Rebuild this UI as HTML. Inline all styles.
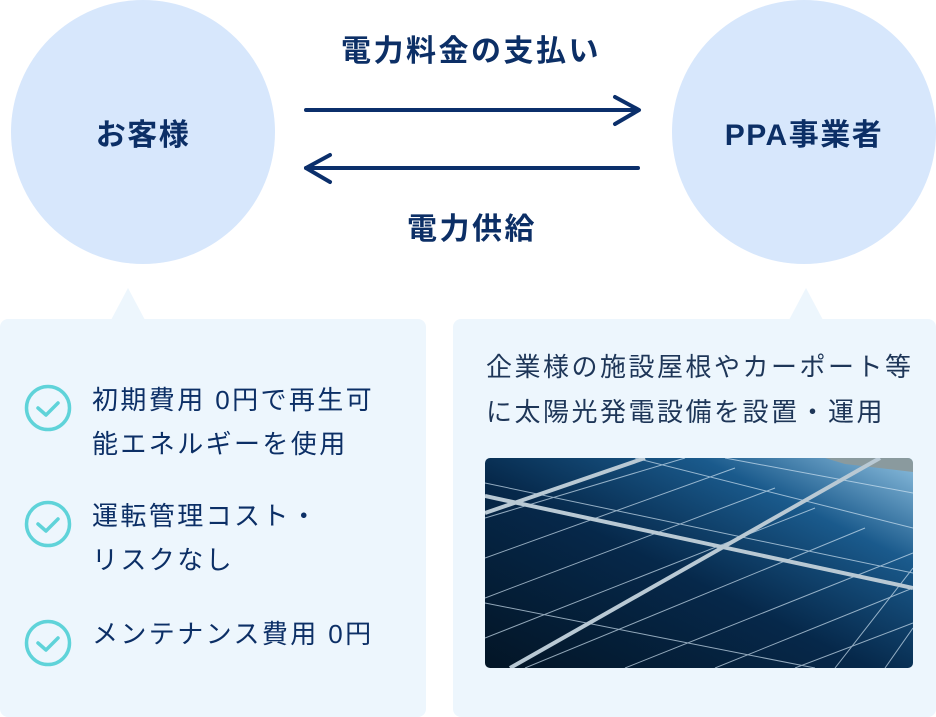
<!DOCTYPE html>
<html><head><meta charset="utf-8"><style>
*{margin:0;padding:0;box-sizing:border-box}
body{width:936px;height:717px;background:#fff;position:relative;overflow:hidden;font-family:"Liberation Sans","Noto Sans CJK JP",sans-serif;color:#0c2f66}
.c{position:absolute;border-radius:50%;background:#d7e7fc;width:264px;height:264px;top:0;display:flex;align-items:center;justify-content:center;font-weight:bold;font-size:30px;letter-spacing:1.5px;color:#0c2f66}
.t{position:absolute;font-weight:bold;font-size:30px;letter-spacing:2.5px;color:#0c2f66;white-space:nowrap}
.p{position:absolute;background:#edf6fd;border-radius:8px;top:319px;height:398px}
.tri{position:absolute;width:0;height:0;border-left:17px solid transparent;border-right:17px solid transparent;border-bottom:32px solid #edf6fd;top:288px}
.li{position:absolute;left:92px;font-size:26px;letter-spacing:2.4px;line-height:44px;color:#0c2f66;white-space:nowrap}
.rt{position:absolute;left:486px;font-size:26px;letter-spacing:2.5px;line-height:45px;color:#1e3658;white-space:nowrap}
.ck{position:absolute;left:24px;width:48px;height:48px}
</style></head><body>
<div class="c" style="left:11px">お客様</div>
<div class="c" style="left:672px">PPA事業者</div>
<div class="t" style="left:341px;top:26px;">電力料金の支払い</div>
<div class="t" style="left:407px;top:204px;">電力供給</div>
<svg style="position:absolute;left:0;top:0" width="936" height="300">
<g stroke="#0b2f6b" stroke-width="4" fill="none" stroke-linecap="round" stroke-linejoin="round">
<line x1="306" y1="110" x2="638" y2="110"/><polyline points="615,97 639,110 615,124"/>
<line x1="306" y1="168" x2="638" y2="168"/><polyline points="330,155 306,168 330,182"/>
</g></svg>
<div class="tri" style="left:111px"></div>
<div class="tri" style="left:789px"></div>
<div class="p" style="left:0;width:426px"></div>
<div class="p" style="left:453px;width:483px"></div>
<svg class="ck" style="top:384px" viewBox="0 0 48 48"><circle cx="24" cy="24" r="21.5" fill="none" stroke="#5fd3d9" stroke-width="3.5"/><polyline points="14,24 22,31 34,19" fill="none" stroke="#5fd3d9" stroke-width="3.5" stroke-linecap="round" stroke-linejoin="round"/></svg>
<svg class="ck" style="top:500px" viewBox="0 0 48 48"><circle cx="24" cy="24" r="21.5" fill="none" stroke="#5fd3d9" stroke-width="3.5"/><polyline points="14,24 22,31 34,19" fill="none" stroke="#5fd3d9" stroke-width="3.5" stroke-linecap="round" stroke-linejoin="round"/></svg>
<svg class="ck" style="top:619px" viewBox="0 0 48 48"><circle cx="24" cy="24" r="21.5" fill="none" stroke="#5fd3d9" stroke-width="3.5"/><polyline points="14,24 22,31 34,19" fill="none" stroke="#5fd3d9" stroke-width="3.5" stroke-linecap="round" stroke-linejoin="round"/></svg>
<div class="li" style="top:378px">初期費用 0円で再生可<br>能エネルギーを使用</div>
<div class="li" style="top:494px">運転管理コスト・<br>リスクなし</div>
<div class="li" style="top:612px">メンテナンス費用 0円</div>
<div class="rt" style="top:345px">企業様の施設屋根やカーポート等<br>に太陽光発電設備を設置・運用</div>
<svg style="position:absolute;left:485px;top:458px;border-radius:5px" width="428" height="210">
<defs><linearGradient id="g" x1="0" y1="1" x2="1" y2="0"><stop offset="0" stop-color="#031526"/><stop offset="0.45" stop-color="#06284a"/><stop offset="0.75" stop-color="#1a5a8c"/><stop offset="1" stop-color="#8ec0e0"/></linearGradient></defs>
<rect width="428" height="210" fill="url(#g)"/>
<polygon points="340,0 428,0 428,14 360,6" fill="#8a9a9e"/>
<g stroke="#cfe3f2" stroke-width="1" opacity="0.7" fill="none">
<line x1="0" y1="25" x2="428" y2="115"/><line x1="0" y1="145" x2="330" y2="210"/>
<line x1="0" y1="60" x2="200" y2="0"/><line x1="0" y1="100" x2="250" y2="10"/><line x1="0" y1="140" x2="290" y2="30"/>
<line x1="0" y1="180" x2="330" y2="50"/><line x1="40" y1="210" x2="380" y2="70"/><line x1="140" y1="210" x2="428" y2="95"/>
<line x1="230" y1="210" x2="428" y2="130"/><line x1="310" y1="210" x2="428" y2="165"/>
<line x1="150" y1="0" x2="428" y2="70"/><line x1="350" y1="210" x2="428" y2="110"/><line x1="400" y1="210" x2="428" y2="170"/>
<line x1="240" y1="0" x2="428" y2="35"/>
</g>
<g stroke="#b9c9d4" stroke-width="4" fill="none">
<line x1="0" y1="38" x2="428" y2="130"/><line x1="0" y1="55" x2="160" y2="0"/><line x1="25" y1="210" x2="395" y2="0"/>
</g></svg>
</body></html>
